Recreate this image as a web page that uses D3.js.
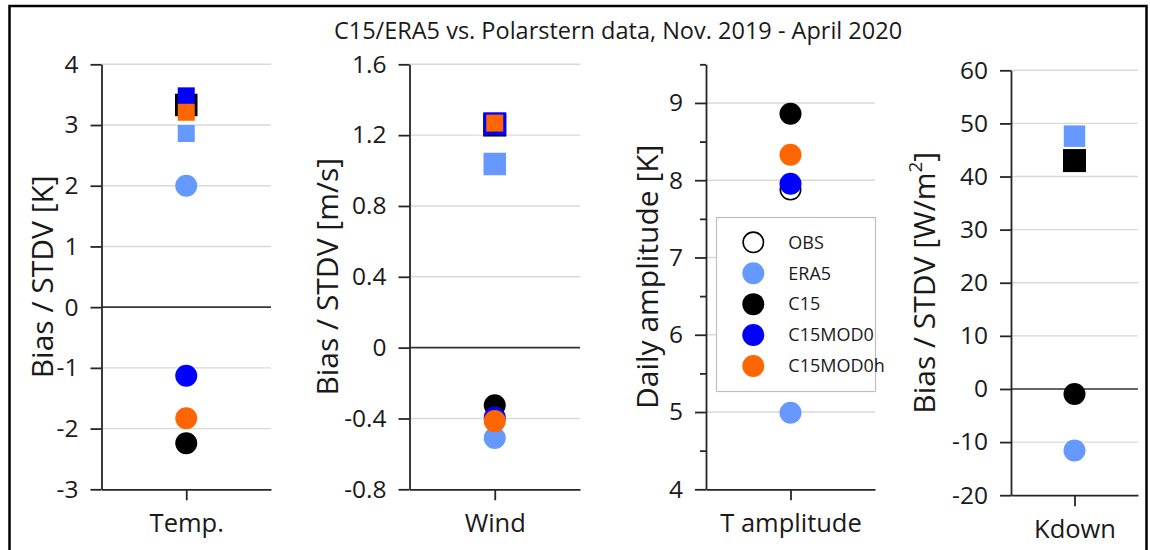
<!DOCTYPE html>
<html>
<head>
<meta charset="utf-8">
<script src="https://cdn.jsdelivr.net/npm/d3@7"></script>
<style>
  body { margin: 0; background: #fff; }
  svg { display: block; font-family: "Open Sans", sans-serif; }
</style>
</head>
<body>
<div id="chart-area"></div>
<script>
// Chart data
const categories = ["Temp.", "Wind", "T amplitude", "Kdown"];
const seriesNames = ["OBS", "ERA5", "C15", "C15MOD0", "C15MOD0h"];

// Circles: bias (daily amplitude for "T amplitude"), null = not shown
const obsValues = [null, null, 7.88, null];
const era5Bias = [2.0, -0.51, 4.99, -11.6];
const c15Bias = [-2.24, -0.325, 8.86, -0.95];
const mod0Bias = [-1.13, -0.395, 7.955, null];
const mod0hBias = [-1.83, -0.415, 8.33, null];

// Squares: STDV
const era5Stdv = [2.86, 1.037, null, 47.6];
const c15Stdv = [3.33, 1.257, null, 43.0];
const mod0Stdv = [3.48, 1.264, null, null];
const mod0hStdv = [3.21, 1.268, null, null];

// Axis ticks
const tempTicks = [-3, -2, -1, 0, 1, 2, 3, 4];
const windTicks = [-0.8, -0.4, 0, 0.4, 0.8, 1.2, 1.6];
const ampTicks = [4, 5, 6, 7, 8, 9];
const ampMinorTicks = [4.5, 5.5, 6.5, 7.5, 8.5, 9.5];
const kdownTicks = [-20, -10, 0, 10, 20, 30, 40, 50, 60];

const yTitles = ["Bias / STDV [K]", "Bias / STDV [m/s]", "Daily amplitude [K]", "Bias / STDV [W/m"];
const title = "C15/ERA5 vs. Polarstern data, Nov. 2019 - April 2020";

const colors = ["#ffffff", "#6699ff", "#000000", "#0000ff", "#ff6600"];

// Panel layout (each panel is its own little chart)
const panels = [
  { x0: 101.5, x1: 271, top: 64.3, bottom: 489.3, domain: [-3, 4], ticks: tempTicks, minor: [],
    titleX: 53, sq: [0, 17, 22.5, 17, 17] },
  { x0: 409.5, x1: 580, top: 64.3, bottom: 489.3, domain: [-0.8, 1.6], ticks: windTicks, minor: [],
    titleX: 338, sq: [0, 22.5, 23, 23, 17] },
  { x0: 706, x1: 875, top: 64.3, bottom: 489.3, domain: [4, 9.5], ticks: ampTicks, minor: ampMinorTicks,
    titleX: 658, sq: [0, 17, 17, 17, 17] },
  { x0: 1011, x1: 1138, top: 70.3, bottom: 495.2, domain: [-20, 60], ticks: kdownTicks, minor: [],
    titleX: 935, sq: [0, 21.5, 23, 17, 17] }
];

const circleSeries = [obsValues, era5Bias, c15Bias, mod0Bias, mod0hBias];
const squareSeries = [null, era5Stdv, c15Stdv, mod0Stdv, mod0hStdv];

const width = 1150;
const height = 550;
const r = 11;

const svg = d3.select("#chart-area")
  .append("svg")
  .attr("width", width)
  .attr("height", height);

// Outer frame
svg.append("rect")
  .attr("x", 9.5).attr("y", 6)
  .attr("width", 1137).attr("height", 600)
  .attr("fill", "none")
  .attr("stroke", "#000")
  .attr("stroke-width", 2.5);

// Title
svg.append("text")
  .attr("x", 618).attr("y", 39)
  .attr("text-anchor", "middle")
  .attr("font-size", 23.5)
  .attr("fill", "#1a1a1a")
  .text(title);

const fmt = d => String(+d.toFixed(2));

panels.forEach((p, i) => {
  const g = svg.append("g");
  const y = d3.scaleLinear().domain(p.domain).range([p.bottom, p.top]);
  const x = d3.scalePoint().domain([categories[i]]).range([p.x0, p.x1]).padding(0.5);

  // Gridlines
  g.append("g")
    .selectAll("line")
    .data(p.ticks.filter(t => t !== p.domain[0] && t !== 0))
    .join("line")
    .attr("x1", p.x0).attr("x2", p.x1)
    .attr("y1", d => y(d)).attr("y2", d => y(d))
    .attr("stroke", "#d9d9d9")
    .attr("stroke-width", 1.4);

  // Zero line
  if (p.domain[0] < 0) {
    g.append("line")
      .attr("x1", p.x0).attr("x2", p.x1)
      .attr("y1", y(0)).attr("y2", y(0))
      .attr("stroke", "#333")
      .attr("stroke-width", 1.6);
  }

  // Y axis
  const yAxis = g.append("g")
    .attr("transform", `translate(${p.x0},0)`)
    .call(d3.axisLeft(y).tickValues(p.ticks).tickFormat(fmt).tickSize(11).tickPadding(12).tickSizeOuter(0));
  yAxis.selectAll("text").attr("font-size", 24.5).attr("fill", "#1a1a1a").attr("font-family", "Open Sans");
  yAxis.selectAll("line, path").attr("stroke", "#262626").attr("stroke-width", 1.8);

  if (p.minor.length) {
    g.append("g")
      .attr("transform", `translate(${p.x0},0)`)
      .call(d3.axisLeft(y).tickValues(p.minor).tickFormat("").tickSize(6).tickSizeOuter(0))
      .call(a => a.select(".domain").remove())
      .selectAll("line").attr("stroke", "#262626").attr("stroke-width", 1.8);
  }

  // X axis
  const xAxis = g.append("g")
    .attr("transform", `translate(0,${p.bottom})`)
    .call(d3.axisBottom(x).tickSize(11).tickPadding(14).tickSizeOuter(0));
  xAxis.selectAll("text").attr("font-size", 25.5).attr("fill", "#1a1a1a").attr("font-family", "Open Sans");
  xAxis.selectAll("line, path").attr("stroke", "#262626").attr("stroke-width", 1.8);

  // Y title
  const yt = g.append("text")
    .attr("transform", `translate(${p.titleX},${(p.top + p.bottom) / 2}) rotate(-90)`)
    .attr("text-anchor", "middle")
    .attr("font-size", 30)
    .attr("fill", "#1a1a1a")
    .text(yTitles[i]);
  if (i === 3) {
    yt.append("tspan").attr("baseline-shift", "super").attr("font-size", 19).text("2");
    yt.append("tspan").text("]");
  }

  // Markers, series order
  seriesNames.forEach((name, s) => {
    const cv = circleSeries[s][i];
    if (cv != null) {
      g.append("circle")
        .attr("cx", x(categories[i]))
        .attr("cy", y(cv))
        .attr("r", s === 0 ? r - 0.8 : r)
        .attr("fill", colors[s])
        .attr("stroke", s === 0 ? "#000" : "none")
        .attr("stroke-width", 1.6);
    }
    const sqv = squareSeries[s] ? squareSeries[s][i] : null;
    if (sqv != null) {
      const size = p.sq[s];
      g.append("rect")
        .attr("x", x(categories[i]) - size / 2)
        .attr("y", y(sqv) - size / 2)
        .attr("width", size)
        .attr("height", size)
        .attr("fill", colors[s]);
    }
  });
});

// Legend
const legend = svg.append("g");
legend.append("rect")
  .attr("x", 716.5).attr("y", 217.5)
  .attr("width", 159).attr("height", 174)
  .attr("fill", "#fff")
  .attr("stroke", "#bfbfbf")
  .attr("stroke-width", 1.2);

const rowY = d3.scalePoint().domain(seriesNames).range([242.3, 366]);
seriesNames.forEach((name, s) => {
  legend.append("circle")
    .attr("cx", 753.3)
    .attr("cy", rowY(name))
    .attr("r", s === 0 ? r - 0.8 : r)
    .attr("fill", colors[s])
    .attr("stroke", s === 0 ? "#000" : "none")
    .attr("stroke-width", 1.6);
  legend.append("text")
    .attr("x", 788.3)
    .attr("y", rowY(name))
    .attr("dy", "0.35em")
    .attr("font-size", 18)
    .attr("fill", "#1a1a1a")
    .text(name);
});
</script>
</body>
</html>
